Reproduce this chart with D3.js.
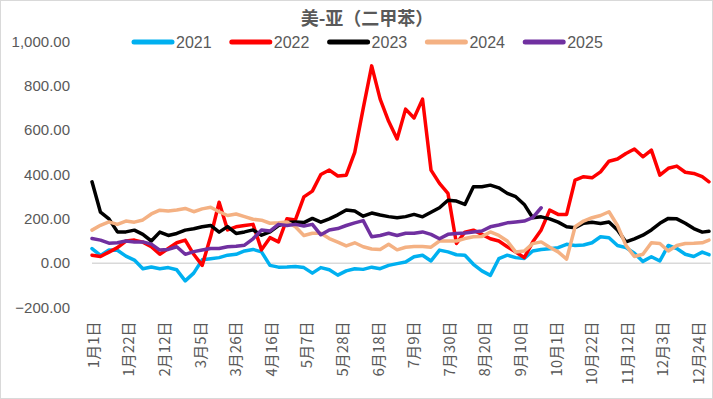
<!DOCTYPE html>
<html><head><meta charset="utf-8">
<script src="https://cdn.jsdelivr.net/npm/d3@7"></script>
<style>
body{margin:0;background:#fff;}
svg{display:block;font-family:"Liberation Sans","Noto Sans CJK SC",sans-serif;}
</style></head>
<body>
<svg id="chart" width="713" height="399"></svg>
<script>
const title = "美-亚（二甲苯）";
const seriesNames = ["2021","2022","2023","2024","2025"];
const colors = ["#00b0f0","#ff0000","#000000","#f4b183","#7030a0"];
const yTicks = [-200,0,200,400,600,800,1000];
const xTickDays = [0,21,42,63,84,105,126,147,168,189,210,231,252,273,294,315,336,357];
const xTickLabels = ["1月1日","1月22日","2月12日","3月5日","3月26日","4月16日","5月7日","5月28日","6月18日","7月9日","7月30日","8月20日","9月10日","10月1日","10月22日","11月12日","12月3日","12月24日"];
const days = [0,5,10,15,20,25,30,35,40,45,50,55,60,65,70,75,80,85,90,95,100,105,110,115,120,125,130,135,140,145,150,155,160,165,170,175,180,185,190,195,200,205,210,215,220,225,230,235,240,245,250,255,260,265,270,275,280,285,290,295,300,305,310,315,320,325,330,335,340,345,350,355,360,364];

const v2021 = [66,35,59,58,32,14,-25,-17,-25,-20,-30,-80,-45,15,20,25,36,40,55,62,51,-10,-18,-17,-15,-20,-45,-20,-30,-54,-35,-25,-28,-18,-25,-10,-2,5,29,36,10,59,51,38,36,-5,-35,-55,20,36,25,21,55,62,65,70,85,80,82,92,119,115,80,70,45,8,29,10,80,66,40,30,50,38];
const v2022 = [36,30,50,70,100,104,95,74,40,66,92,104,40,-10,120,275,150,164,170,175,60,115,96,200,195,299,325,400,420,393,397,500,698,890,740,640,560,695,655,740,420,360,315,89,140,149,130,110,100,74,50,25,95,150,239,220,220,375,390,385,412,460,470,495,515,480,510,397,428,438,410,405,390,367];
const v2023 = [367,230,200,141,141,149,130,100,140,125,134,149,155,164,170,140,165,134,141,150,126,141,170,183,186,183,202,185,200,218,240,235,212,226,217,210,205,210,220,209,230,250,284,280,265,345,345,352,340,315,300,265,205,209,200,185,164,160,180,185,179,186,150,96,110,126,150,180,202,200,180,156,140,144];
const v2024 = [149,171,186,175,190,185,195,222,239,235,240,247,232,245,252,232,215,222,210,198,194,180,182,186,164,125,135,135,111,95,78,92,74,64,62,85,60,72,75,75,72,100,100,100,111,119,120,141,125,100,50,55,88,96,72,51,18,164,190,205,215,232,170,80,30,40,92,89,55,80,89,90,92,104];
const v2025 = [111,104,90,92,100,96,96,86,59,62,74,40,52,59,66,66,74,76,81,110,150,145,175,170,175,168,175,128,150,156,170,182,192,119,125,135,125,135,135,141,130,110,130,134,136,141,145,164,172,182,186,190,205,250,null,null,null,null,null,null,null,null,null,null,null,null,null,null,null,null,null,null,null,null];
const allSeries = [v2021,v2022,v2023,v2024,v2025];

const svg = d3.select("#chart");
const W = 713, H = 399;
svg.append("rect").attr("x",0.5).attr("y",0.5).attr("width",W-1).attr("height",H-1)
  .attr("fill","#fff").attr("stroke","#d9d9d9").attr("stroke-width",1);

const x = d3.scaleLinear().domain([0,365]).range([92,710.7]);
const y = d3.scaleLinear().domain([-200,1000]).range([307.5,41.5]);

// title
svg.append("text").attr("x",367).attr("y",25).attr("text-anchor","middle")
  .attr("font-size",18).attr("font-weight","bold").attr("fill","#595959")
  .attr("font-family","'Noto Sans CJK SC',sans-serif").text(title);

// y axis
const yAxis = svg.append("g").attr("transform","translate(92,0)")
  .call(d3.axisLeft(y).tickValues(yTicks).tickSize(0).tickPadding(22).tickFormat(d3.format(",.2f")));
yAxis.select(".domain").remove();
yAxis.selectAll("text").attr("font-size",15).attr("fill","#595959").attr("font-family","'Liberation Sans',sans-serif");

// zero line
svg.append("line").attr("x1",x(0)).attr("x2",x(365)).attr("y1",y(0)).attr("y2",y(0))
  .attr("stroke","#d9d9d9").attr("stroke-width",1.5);

// x axis
const xAxis = svg.append("g").attr("transform",`translate(0,${y(-200)})`)
  .call(d3.axisBottom(x).tickValues(xTickDays).tickSize(0).tickFormat((d,i)=>xTickLabels[i]));
xAxis.select(".domain").remove();
xAxis.selectAll("text").attr("transform","rotate(-90)").attr("x",-14).attr("y",1).attr("dy","0.35em")
  .style("text-anchor","end").attr("font-size",15).attr("fill","#595959")
  .attr("font-family","'Noto Sans CJK SC',sans-serif");

// lines
const line = d3.line().defined(d=>d[1]!==null).x(d=>x(d[0])).y(d=>y(d[1])).curve(d3.curveLinear);
allSeries.forEach((vals,i)=>{
  const pts = days.map((d,j)=>[d, vals[j]]);
  svg.append("path").datum(pts).attr("d",line).attr("fill","none")
    .attr("stroke",colors[i]).attr("stroke-width",3.5).attr("stroke-linejoin","round").attr("stroke-linecap","round");
});

// legend
const lg = svg.append("g").attr("transform","translate(132,42)");
seriesNames.forEach((n,i)=>{
  const g = lg.append("g").attr("transform",`translate(${i*97.8},0)`);
  g.append("line").attr("x1",2).attr("x2",40).attr("y1",0).attr("y2",0)
    .attr("stroke",colors[i]).attr("stroke-width",5).attr("stroke-linecap","round");
  g.append("text").attr("x",44).attr("y",0).attr("dy","0.35em").attr("font-size",16)
    .attr("fill","#595959").text(n);
});
</script>
</body></html>
